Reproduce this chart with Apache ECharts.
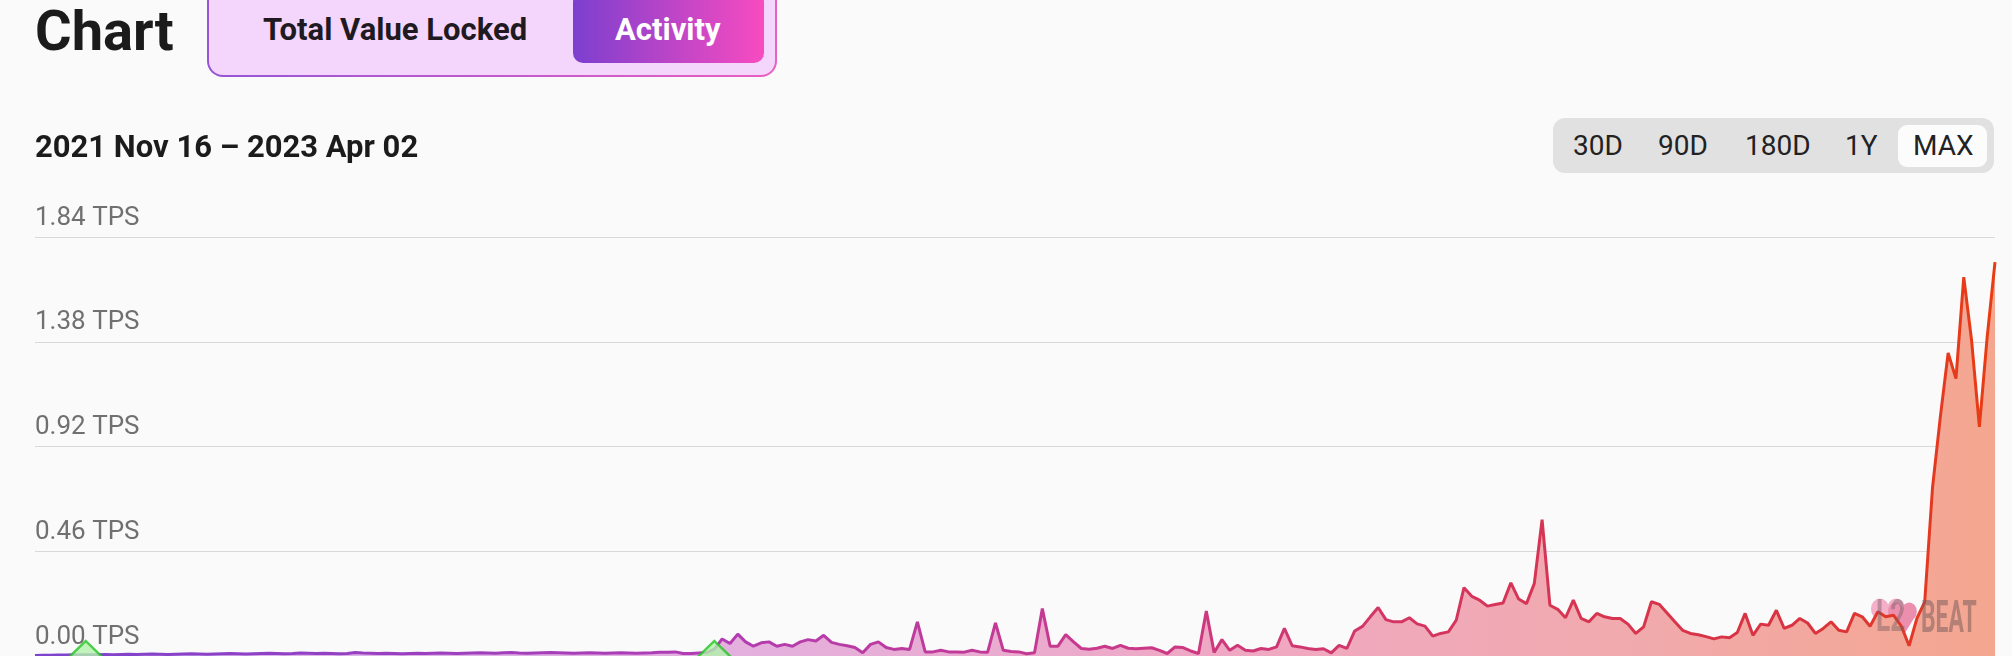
<!DOCTYPE html>
<html>
<head>
<meta charset="utf-8">
<script src="https://cdn.jsdelivr.net/npm/echarts/dist/echarts.min.js"></script>
<style>
html,body{margin:0;padding:0;background:#fafafa;width:2012px;height:656px;overflow:hidden;font-family:Roboto,"Noto Sans",sans-serif;}
#chart{position:absolute;left:0;top:0;width:2012px;height:656px;}
.t{position:absolute;line-height:1;white-space:nowrap;}
#tabOuter{position:absolute;left:207px;top:-22px;width:570px;height:99px;border-radius:16px;background:linear-gradient(90deg,#9555d6,#ea5fc2);}
#tabInner{position:absolute;left:2px;top:2px;right:2px;bottom:2px;border-radius:14px;background:#f4d5fb;}
#actBtn{position:absolute;left:573px;top:-8px;width:191px;height:71px;border-radius:10px;background:linear-gradient(90deg,#7c3fcf,#f84bc0);}
#rangeBox{position:absolute;left:1553px;top:118px;width:441px;height:55px;border-radius:12px;background:#e1e1e1;}
#maxBox{position:absolute;left:1898px;top:125px;width:89px;height:42px;border-radius:9px;background:#fcfcfc;}
.btn{font-size:28px;color:#222;top:132px;}
</style>
</head>
<body>
<div id="chart"></div>
<div class="t" style="left:35px;top:3px;font-size:56px;font-weight:700;color:#1b1b1b;">Chart</div>
<div id="tabOuter"><div id="tabInner"></div></div>
<div id="actBtn"></div>
<div class="t" style="left:263px;top:14px;font-size:31px;font-weight:700;color:#1f1a22;">Total Value Locked</div>
<div class="t" style="left:615px;top:14px;font-size:31px;font-weight:700;color:#ffffff;">Activity</div>
<div class="t" style="left:35px;top:131px;font-size:31px;font-weight:700;color:#1b1b1b;">2021 Nov 16 – 2023 Apr 02</div>
<div id="rangeBox"></div>
<div id="maxBox"></div>
<div class="t btn" style="left:1573px;">30D</div>
<div class="t btn" style="left:1658px;">90D</div>
<div class="t btn" style="left:1745px;">180D</div>
<div class="t btn" style="left:1845px;">1Y</div>
<div class="t btn" style="left:1913px;">MAX</div>
<script>
// ---- data ----
const startDate = '2021-11-16';
const endDate = '2023-04-02';
const stepDays = 2; // one reading every two days
const tps = [
  0.002,0.003,0.003,0.004,0.004,0.005,0.005,0.006,0.006,0.007,
  0.006,0.007,0.008,0.007,0.008,0.009,0.008,0.007,0.008,0.009,
  0.010,0.009,0.008,0.009,0.010,0.011,0.010,0.009,0.010,0.011,
  0.012,0.011,0.010,0.011,0.013,0.012,0.011,0.012,0.011,0.010,
  0.011,0.015,0.013,0.012,0.011,0.012,0.011,0.010,0.011,0.012,
  0.011,0.012,0.013,0.012,0.011,0.012,0.013,0.014,0.013,0.012,
  0.014,0.015,0.013,0.012,0.013,0.014,0.015,0.014,0.013,0.012,
  0.013,0.014,0.013,0.012,0.013,0.014,0.013,0.012,0.013,0.014,
  0.016,0.016,0.018,
  0.011,0.011,0.013,0.015,0.030,0.075,0.055,0.096,0.062,0.043,
  0.058,0.062,0.043,0.051,0.043,0.062,0.072,0.066,0.091,0.060,
  0.051,0.045,0.037,0.014,0.051,0.062,0.037,0.029,0.033,0.029,
  0.150,0.018,0.018,0.025,0.018,0.018,0.017,0.025,0.018,0.017,
  0.145,0.025,0.020,0.018,
  0.010,0.014,0.208,0.043,0.043,0.094,0.062,0.033,0.030,0.034,
  0.043,0.033,0.047,0.034,0.032,0.034,0.036,0.025,0.011,0.040,
  0.037,0.022,0.011,0.197,0.015,0.072,0.025,0.047,0.025,0.022,
  0.033,0.029,0.040,0.121,0.045,0.040,0.033,0.029,0.032,0.014,
  0.047,0.033,0.110,
  0.130,0.172,0.213,0.160,0.150,0.150,0.168,0.141,0.131,0.087,
  0.099,0.106,0.157,0.300,0.262,0.245,0.219,0.226,0.233,0.321,
  0.250,0.230,0.318,0.599,0.223,0.205,0.168,0.245,0.165,0.150,
  0.187,0.172,0.165,0.165,0.140,0.099,0.128,0.238,0.227,0.189,
  0.150,0.113,0.099,0.093,
  0.085,0.075,0.084,0.080,0.103,0.187,0.091,0.140,0.135,0.201,
  0.121,0.135,0.165,0.145,0.099,0.121,0.150,0.113,0.106,0.187,
  0.172,0.131,0.194,0.172,0.179,0.131,0.045,0.165,0.238,0.740,
  1.050,1.331,1.218,1.664,1.386,1.006,1.401,1.730
];
const milestones = ['2021-11-29', '2022-05-09'];
const yTicks = [0, 0.46, 0.92, 1.38, 1.84];
const yUnit = 'TPS';

// ---- build ----
const DAY = 86400000;
const t0 = Date.parse(startDate + 'T00:00:00Z');
const lineData = tps.map((v, i) => [t0 + i * stepDays * DAY, v]);
const msData = milestones.map(d => [Date.parse(d + 'T00:00:00Z'), 0]);

function heart(x, y, sx, sy, fill) {
  return {
    type: 'group', x: x, y: y, scaleX: sx, scaleY: sy, z: 10, silent: true,
    children: [
      {type: 'circle', shape: {cx: 9.5, cy: 10, r: 9.5}, style: {fill: fill}},
      {type: 'circle', shape: {cx: 26.5, cy: 10, r: 9.5}, style: {fill: fill}},
      {type: 'polygon', shape: {points: [[0.3, 12.5], [35.7, 12.5], [18, 37]]}, style: {fill: fill}}
    ]
  };
}

const chart = echarts.init(document.getElementById('chart'), null, {renderer: 'canvas'});
chart.setOption({
  backgroundColor: 'transparent',
  animation: false,
  grid: {left: 35, right: 17, top: 237, bottom: 0, containLabel: false, outerBoundsMode: 'none'},
  xAxis: {
    type: 'time',
    min: t0,
    max: Date.parse(endDate + 'T00:00:00Z'),
    show: false,
    splitLine: {show: false}
  },
  yAxis: {
    type: 'value',
    min: yTicks[0],
    max: yTicks[yTicks.length - 1],
    interval: yTicks[1] - yTicks[0],
    axisLine: {show: false},
    axisTick: {show: false},
    splitLine: {show: true, lineStyle: {color: '#d9d9d9', width: 1}},
    axisLabel: {
      inside: true,
      margin: 0,
      align: 'left',
      verticalAlign: 'bottom',
      padding: [0, 0, 6, 0],
      color: '#707070',
      fontSize: 26,
      fontFamily: 'Roboto',
      formatter: v => v.toFixed(2) + ' ' + yUnit
    }
  },
  series: [
    {
      type: 'line',
      data: lineData,
      showSymbol: false,
      smooth: false,
      z: 3,
      lineStyle: {
        width: 3,
        color: new echarts.graphic.LinearGradient(0, 0, 1, 0, [
          {offset: 0, color: '#7d44cf'},
          {offset: 0.35, color: '#b23cb2'},
          {offset: 0.55, color: '#c9398a'},
          {offset: 0.72, color: '#d5355c'},
          {offset: 0.9, color: '#d93340'},
          {offset: 1, color: '#e93c12'}
        ])
      },
      areaStyle: {
        opacity: 1,
        color: new echarts.graphic.LinearGradient(0, 0, 1, 0, [
          {offset: 0, color: '#d7b9f0'},
          {offset: 0.35, color: '#e3b0df'},
          {offset: 0.6, color: '#efa8c4'},
          {offset: 0.82, color: '#f1aaac'},
          {offset: 1, color: '#f4a68f'}
        ])
      }
    },
    {
      type: 'scatter',
      data: msData,
      symbol: 'diamond',
      symbolSize: [31, 30],
      z: 5,
      clip: false,
      itemStyle: {color: '#b2f2aa', borderColor: '#25c425', borderWidth: 2.5}
    }
  ],
  graphic: [
    heart(1871, 598, 0.95, 1.1, '#f3b0c8'),
    heart(1888, 602, 0.8, 0.95, '#ec8fae'),
    {type: 'text', x: 1876, y: 642, scaleX: 0.6, z: 11, silent: true,
     style: {text: 'L2', font: 'bold 44px Roboto', fill: 'rgba(120,95,100,0.45)', verticalAlign: 'bottom'}},
    {type: 'text', x: 1921, y: 643, scaleX: 0.52, z: 11, silent: true,
     style: {text: 'BEAT', font: 'bold 44px Roboto', fill: 'rgba(125,95,95,0.55)', verticalAlign: 'bottom'}}
  ]
});
</script>
</body>
</html>
